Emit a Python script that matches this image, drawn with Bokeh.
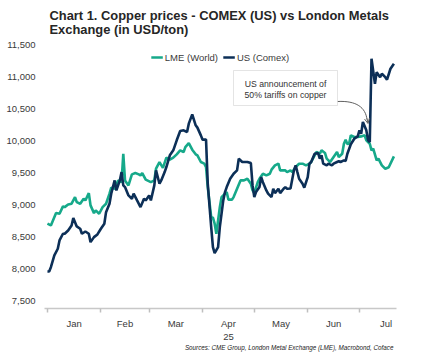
import pandas as pd
from bokeh.plotting import figure
from bokeh.layouts import column
from bokeh.models import (Range1d, FixedTicker, NumeralTickFormatter, Label, BoxAnnotation,
                          Arrow, OpenHead, Legend, LegendItem, Title)
from bokeh.embed import file_html
from bokeh.resources import INLINE

# ---------------- data ----------------
START = pd.Timestamp("2025-01-01")

# days since 2025-01-01, US (COMEX) price USD/ton
us_days = [0, 1, 2, 4, 6, 7, 9, 10, 12, 14, 15, 17, 19, 20, 22, 24, 25, 27, 29, 31,
           33, 34, 36, 37, 39, 40, 42, 43, 44, 45, 47, 49, 50, 52, 54, 56, 57, 59, 60, 62,
           63, 65, 66, 68, 69, 71, 73, 75, 77, 79, 81, 82, 84, 86, 87, 89, 90, 92, 93, 95,
           96, 97, 99, 100, 102, 103, 104, 106, 108, 110, 111, 113, 114, 116, 118, 119, 120, 121, 123, 124,
           125, 127, 128, 130, 131, 132, 134, 135, 137, 138, 139, 141, 143, 144, 145, 146, 148, 149, 151, 152,
           153, 155, 157, 158, 159, 160, 162, 163, 165, 166, 168, 169, 170, 172, 173, 174, 176, 178, 180, 181,
           182, 183, 185, 186, 187, 188, 190, 191, 193, 194, 196, 197, 199, 201]
us_vals = [7967, 7967, 8034, 8217, 8321, 8450, 8555, 8555, 8606, 8684, 8798, 8669, 8633, 8555, 8590, 8555, 8424, 8502, 8544, 8633,
           8711, 8891, 9022, 9178, 9385, 9229, 9385, 9514, 9307, 9281, 9151, 9100, 9178, 9073, 8969, 9100, 9073, 9151, 9073, 9307,
           9541, 9333, 9385, 9514, 9593, 9775, 9853, 10009, 10153, 10164, 10138, 10268, 10413, 10242, 10206, 10086, 10019, 10019, 9334, 8658,
           8346, 8253, 8346, 8658, 9073, 9203, 9281, 9411, 9489, 9541, 9723, 9671, 9671, 9671, 9655, 9307, 9125, 9203, 9281, 9437,
           9358, 9229, 9178, 9125, 9256, 9187, 9256, 9187, 9256, 9281, 9256, 9260, 9541, 9619, 9514, 9411, 9334, 9271, 9437, 9645,
           9671, 9800, 9812, 9723, 9775, 9645, 9619, 9645, 9619, 9645, 9671, 9682, 9671, 9697, 9686, 9800, 9948, 10034, 10070, 10164,
           10112, 10294, 10164, 10009, 9983, 11280, 10889, 11070, 10992, 11045, 10992, 10952, 11123, 11201]

# days since 2025-01-01, LME (World) price USD/ton
lme_days = [0, 2, 5, 7, 9, 10, 12, 14, 16, 17, 19, 21, 22, 24, 25, 27, 28, 30, 32, 34,
            36, 37, 39, 41, 43, 44, 45, 47, 49, 51, 53, 54, 55, 57, 60, 62, 63, 65, 67, 69,
            71, 73, 75, 77, 79, 80, 82, 84, 86, 87, 89, 91, 92, 93, 95, 96, 97, 98, 100, 101,
            103, 104, 105, 107, 108, 110, 112, 114, 116, 118, 119, 120, 122, 123, 125, 127, 129, 130, 132, 134,
            135, 136, 138, 139, 141, 142, 144, 146, 148, 150, 152, 153, 155, 156, 158, 159, 161, 162, 164, 166,
            168, 169, 171, 172, 173, 174, 175, 176, 178, 180, 182, 184, 185, 187, 188, 189, 191, 192, 194, 196,
            198, 201]
lme_vals = [8711, 8684, 8876, 8866, 8980, 8969, 9011, 9022, 9125, 9047, 9022, 9100, 9073, 9187, 8996, 8876, 8918, 8866, 8969, 9022,
            9178, 9271, 9256, 9385, 9358, 9800, 9385, 9307, 9479, 9499, 9479, 9463, 9499, 9396, 9358, 9385, 9567, 9670, 9580, 9739,
            9708, 9739, 9791, 9853, 9827, 9904, 9966, 9863, 9791, 9775, 9671, 9645, 9593, 9281, 8813, 8804, 8711, 8555, 8969, 9125,
            9178, 9203, 9085, 9085, 9125, 9256, 9385, 9385, 9411, 9334, 9229, 9187, 9358, 9411, 9489, 9463, 9489, 9552, 9619, 9645,
            9541, 9541, 9541, 9514, 9541, 9514, 9593, 9645, 9645, 9619, 9645, 9671, 9775, 9827, 9800, 9853, 9812, 9723, 9671, 9749,
            9827, 9749, 9800, 9956, 10019, 9950, 9956, 10086, 10060, 10060, 10070, 10086, 10009, 9956, 9853, 9880, 9697, 9723, 9619, 9567,
            9590, 9759]

month_starts = ["2025-01-01", "2025-02-01", "2025-03-01", "2025-04-01", "2025-05-01",
                "2025-06-01", "2025-07-01", "2025-08-01"]
month_labels = ["Jan", "Feb", "Mar", "Apr\n25", "May", "Jun", "Jul"]
y_ticks = [7500, 8000, 8500, 9000, 9500, 10000, 10500, 11000, 11500]
title_lines = ["Chart 1. Copper prices - COMEX (US) vs London Metals", "Exchange (in USD/ton)"]

LME_COLOR = "#16a98a"
US_COLOR = "#0c2f57"
TEXT = "#3a3a3a"
FONT = "Liberation Sans"
HEADER_H = 38
FRAME_TOP = 41


def ms(ts):
    return int(pd.Timestamp(ts).value // 10**6)


# ---------------- header (title) ----------------
head = figure(width=427, height=HEADER_H, output_backend="svg", toolbar_location=None,
              x_range=Range1d(0, 427), y_range=Range1d(0, HEADER_H),
              x_axis_location=None, y_axis_location=None, min_border=0,
              title_location=None)
head.outline_line_color = None
head.xgrid.visible = False
head.ygrid.visible = False
head.background_fill_color = "white"
head.border_fill_color = "white"
for line_txt, base_y in zip(title_lines, [14.5, 29]):
    head.add_layout(Label(x=6, y=HEADER_H - base_y, text=line_txt, text_font=FONT,
                          text_font_style="bold", text_font_size="12.9px",
                          text_color="#262626", text_baseline="alphabetic"))

# ---------------- main chart ----------------
lme_x = [START + pd.Timedelta(days=d) for d in lme_days]
us_x = [START + pd.Timedelta(days=d) for d in us_days]

X0 = ms(START - pd.Timedelta(hours=41))
X1 = ms(START + pd.Timedelta(hours=202.5 * 24))
Y0, Y1 = 7391, 11547

p = figure(width=427, height=355 - HEADER_H, x_axis_type="datetime", output_backend="svg",
           toolbar_location=None, x_range=Range1d(X0, X1), y_range=Range1d(Y0, Y1),
           min_border_left=44, min_border_right=31, min_border_top=FRAME_TOP - HEADER_H,
           min_border_bottom=47, title_location=None)
p.outline_line_color = None
p.xgrid.visible = False
p.ygrid.visible = False
p.background_fill_color = "white"
p.border_fill_color = "white"

r_lme = p.line(lme_x, lme_vals, color=LME_COLOR, line_width=2.6)
r_us = p.line(us_x, us_vals, color=US_COLOR, line_width=2.6)

# axes
starts_ms = [ms(s) for s in month_starts]
mids = [(starts_ms[i] + starts_ms[i + 1]) // 2 for i in range(len(month_labels))]
xa = p.xaxis[0]
xa.ticker = FixedTicker(ticks=mids, minor_ticks=starts_ms[:-1])
xa.major_label_overrides = {m: lab for m, lab in zip(mids, month_labels)}
xa.major_tick_line_color = None
xa.major_tick_out = 0
xa.major_tick_in = 0
xa.minor_tick_out = 4
xa.minor_tick_in = 0
xa.minor_tick_line_color = "#bfbfbf"
xa.minor_tick_line_width = 1.5
xa.axis_line_color = "#c8c8c8"
xa.axis_line_width = 1.5
xa.major_label_standoff = 5
xa.major_label_text_font = FONT
xa.major_label_text_font_size = "9.5px"
xa.major_label_text_color = TEXT

ya = p.yaxis[0]
ya.ticker = FixedTicker(ticks=y_ticks)
ya.formatter = NumeralTickFormatter(format="0,0")
ya.axis_line_color = None
ya.major_tick_line_color = None
ya.minor_tick_line_color = None
ya.major_tick_out = 0
ya.major_tick_in = 0
ya.minor_tick_out = 0
ya.major_label_standoff = 9
ya.major_label_text_font = FONT
ya.major_label_text_font_size = "9.5px"
ya.major_label_text_color = TEXT

# legend
legend = Legend(items=[LegendItem(label="LME (World)", renderers=[r_lme]),
                       LegendItem(label="US (Comex)", renderers=[r_us])],
                orientation="horizontal", location="top_center",
                margin=10, padding=0, spacing=5, glyph_width=12, glyph_height=12,
                label_height=12, label_standoff=2, border_line_color=None,
                background_fill_alpha=0, label_text_font=FONT,
                label_text_font_size="9.5px", label_text_color=TEXT)
p.add_layout(legend)

# sources
p.add_layout(Title(text="Sources: CME Group, London Metal Exchange (LME), Macrobond, Coface",
                   text_font=FONT, text_font_style="italic", text_font_size="6.3px",
                   text_color="#222222", align="right", offset=3, standoff=-6), "below")

# annotation box (screen units relative to the plot frame)
FRAME_L, FRAME_B = 44, 308
p.add_layout(BoxAnnotation(left=233 - FRAME_L, right=337 - FRAME_L,
                           top=FRAME_B - 70, bottom=FRAME_B - 105,
                           left_units="screen", right_units="screen",
                           top_units="screen", bottom_units="screen",
                           fill_color="white", fill_alpha=1, line_color="#a6a6a6",
                           line_width=1, level="annotation"))
for txt, cy in [("US announcement of", 83.5), ("50% tariffs on copper", 94)]:
    p.add_layout(Label(x=285 - FRAME_L, y=FRAME_B - cy, x_units="screen", y_units="screen",
                       text=txt, text_font=FONT, text_font_size="8.7px", text_color="#333333",
                       text_align="center", text_baseline="middle"))


def px_x(px):
    return X0 + (px - 44) / 352 * (X1 - X0)


def px_y(py):
    return Y1 - (py - 41) / 267 * (Y1 - Y0)


p.bezier(x0=[px_x(337)], y0=[px_y(101)], x1=[px_x(366.5)], y1=[px_y(119)],
         cx0=[px_x(356)], cy0=[px_y(100)], cx1=[px_x(365)], cy1=[px_y(107)],
         line_color="#606060", line_width=1)
p.add_layout(Arrow(end=OpenHead(size=5, line_color="#606060", line_width=1),
                   x_start=px_x(366.5), y_start=px_y(118), x_end=px_x(367.5), y_end=px_y(123),
                   line_color="#606060", line_width=1))

layout = column(head, p, spacing=0)
open("out.html", "w").write(file_html(layout, INLINE))
